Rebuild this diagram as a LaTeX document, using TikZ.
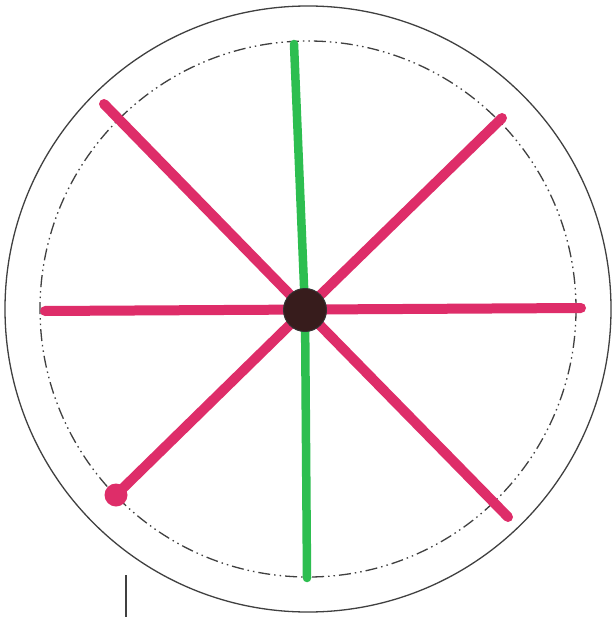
\documentclass[tikz,border=0pt]{standalone}
\begin{document}
\begin{tikzpicture}[x=1pt,y=-1pt,
  rim/.style={draw=black!75,line width=1.3pt},
  pitch/.style={draw=black!75,line width=1.3pt,dash pattern=on 12pt off 4pt on 1.5pt off 4pt on 1.5pt off 4pt},
  spoke/.style={draw=magentared,line width=10pt,line cap=round},
  gspoke/.style={draw=spokegreen,line width=8.5pt,line cap=round},
  hubstyle/.style={circle,fill=hubbrown,draw=black!80,line width=1pt,minimum size=43pt,inner sep=0pt},
  tip/.style={circle,fill=magentared,minimum size=23pt,inner sep=0pt}]
\definecolor{magentared}{RGB}{222,45,105}
\definecolor{spokegreen}{RGB}{45,190,80}
\definecolor{hubbrown}{RGB}{55,28,28}
\useasboundingbox (0,0) rectangle (615,617);
\fill[white] (0,0) rectangle (615,617);
\coordinate (c) at (308,309);
\coordinate (h) at (305,310);
\draw[rim] (c) circle[radius=303];
\draw[pitch] (c) circle[radius=268];
% spoke ends
\coordinate (gt) at (294,44);
\coordinate (gb) at (307,578);
\coordinate (rl) at (45,311);
\coordinate (rr) at (581,308);
\coordinate (ul) at (104,104);
\coordinate (ur) at (502,118);
\coordinate (ll) at (116,495);
\coordinate (lr) at (508,517);
\draw[gspoke] (gt) -- (h);
\draw[gspoke] (gb) -- (h);
\draw[spoke] (rl) -- (rr);
\draw[spoke] (ul) -- (h);
\draw[spoke] (ur) -- (h);
\draw[spoke] (ll) -- (h);
\draw[spoke] (lr) -- (h);
\node[tip] (dot) at (ll) {};
\node[hubstyle] (hub) at (h) {};
\coordinate (mt) at (126,575);
\coordinate (mb) at (126,617);
\draw[draw=black!75,line width=1.3pt] (mt) -- (mb);
\end{tikzpicture}
\end{document}
